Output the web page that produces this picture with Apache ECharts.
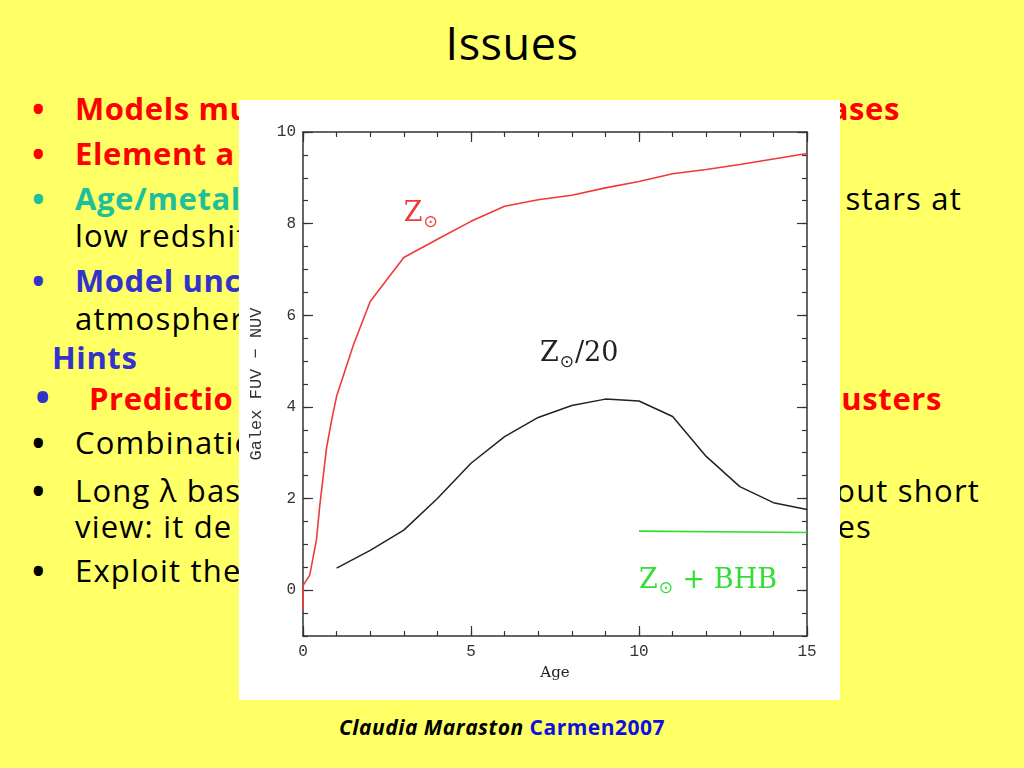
<!DOCTYPE html>
<html>
<head>
<meta charset="utf-8">
<script src="https://cdn.jsdelivr.net/npm/echarts@6/dist/echarts.min.js"></script>
<style>
  html, body { margin:0; padding:0; }
  body { width:1024px; height:768px; background:#ffff66; position:relative; overflow:hidden; font-family:"Open Sans", sans-serif; }
  .t { position:absolute; white-space:nowrap; font-size:31px; line-height:40px; color:#000; letter-spacing:0.6px; }
  .n { letter-spacing:1.2px; }
  .d { position:absolute; white-space:nowrap; font-size:44px; line-height:40px; }
  .b { font-weight:bold; }
  .red { color:#ff0000; }
  .teal { color:#1fbf9a; }
  .blue { color:#3333cc; }
  .r { text-align:right; }
  #chart { position:absolute; left:239px; top:100px; width:601px; height:600px; background:#ffffff; z-index:5; }
</style>
</head>
<body>
<script>
// ---- data ----
const solarAge   = [0, 0, 0.2, 0.4, 0.5, 0.7, 0.85, 1, 1.5, 2, 3, 4, 5, 6, 7, 8, 9, 10, 11, 12, 13, 14, 15];
const solarColor = [-0.42, 0.1, 0.33, 1.1, 1.85, 3.1, 3.7, 4.23, 5.35, 6.3, 7.26, 7.66, 8.05, 8.38, 8.52, 8.62, 8.78, 8.92, 9.09, 9.18, 9.29, 9.41, 9.53];
const poorAge    = [1, 2, 3, 4, 5, 6, 7, 8, 9, 10, 11, 12, 13, 14, 15];
const poorColor  = [0.48, 0.87, 1.31, 2.0, 2.77, 3.35, 3.77, 4.03, 4.17, 4.13, 3.79, 2.92, 2.26, 1.91, 1.76];
const bhbAge     = [10, 15];
const bhbColor   = [1.29, 1.26];
const xTickLabels = [0, 5, 10, 15];
const yTickLabels = [0, 2, 4, 6, 8, 10];
</script>

<div class="t" style="left:0;width:1024px;top:17px;font-size:45px;line-height:52px;text-align:center;letter-spacing:0.5px;">Issues</div>

<div class="d red" style="left:30px;top:88px;">•</div>
<div class="t b red" style="left:75px;top:88px;">Models mu</div>
<div class="t b red r" style="right:124px;top:88px;">ases</div>

<div class="d red" style="left:30px;top:133px;">•</div>
<div class="t b red" style="left:75px;top:133px;">Element a</div>

<div class="d teal" style="left:30px;top:178px;">•</div>
<div class="t b teal" style="left:75px;top:178px;">Age/metal</div>
<div class="t n r" style="right:62px;top:178px;">stars at</div>
<div class="t n" style="left:75px;top:215px;">low redshift</div>

<div class="d blue" style="left:30px;top:260px;">•</div>
<div class="t b blue" style="left:75px;top:260px;">Model unc</div>
<div class="t n" style="left:75px;top:298px;">atmospher</div>

<div class="t b blue" style="left:52px;top:337px;">Hints</div>

<div class="d blue" style="left:33px;top:376px;font-size:52px;">•</div>
<div class="t b red" style="left:89px;top:378px;">Predictio</div>
<div class="t b red r" style="right:82px;top:378px;">usters</div>

<div class="d" style="left:30px;top:422px;">•</div>
<div class="t n" style="left:75px;top:422px;">Combinatio</div>

<div class="d" style="left:30px;top:470px;">•</div>
<div class="t n" style="left:75px;top:470px;">Long λ bas</div>
<div class="t n r" style="right:44px;top:470px;">out short</div>
<div class="t n" style="left:75px;top:506px;">view: it de</div>
<div class="t n r" style="right:152px;top:506px;">es</div>

<div class="d" style="left:30px;top:550px;">•</div>
<div class="t n" style="left:75px;top:550px;">Exploit the</div>

<div class="t" style="left:0;width:1004px;top:713px;font-size:21px;line-height:28px;text-align:center;font-weight:bold;font-style:italic;letter-spacing:0.5px;">Claudia Maraston <span style="color:#1010dd;font-style:normal;">Carmen2007</span></div>

<div id="chart"></div>

<script>
const chart = echarts.init(document.getElementById('chart'), null, { renderer: 'canvas' });
const zip = (a, b) => a.map((v, i) => [v, b[i]]);
const axisCol = '#333333';
const tickFont = { fontFamily: 'Liberation Mono', fontSize: 16, color: '#333' };

function xAx(pos, interval, len, labels, extra) {
  return Object.assign({
    type: 'value', min: 0, max: 15, interval: interval, position: pos,
    axisLine: { show: len === 5, onZero: false, lineStyle: { color: axisCol, width: 1.5 } },
    axisTick: { show: true, inside: true, length: len, lineStyle: { color: axisCol, width: 1.2 } },
    axisLabel: { show: labels, margin: 8, ...tickFont },
    splitLine: { show: false }
  }, extra || {});
}
function yAx(pos, len, labels, extra) {
  const ax = {
    type: 'value', min: -1, max: 10, position: pos,
    axisLine: { show: len === 5, onZero: false, lineStyle: { color: axisCol, width: 1.5 } },
    axisTick: { show: true, inside: true, length: len, lineStyle: { color: axisCol, width: 1.2 } },
    axisLabel: { show: labels, margin: 7, ...tickFont },
    splitLine: { show: false }
  };
  if (len === 5) { ax.interval = 0.5; }
  else {
    ax.interval = 1;
    ax.axisTick.customValues = yTickLabels;
    ax.axisLabel.customValues = yTickLabels;
  }
  return Object.assign(ax, extra || {});
}

const subRich = (col) => ({
  z: { fontFamily: 'DejaVu Serif', fontSize: 27, color: col },
  s: { fontFamily: 'DejaVu Sans', fontSize: 17, color: col, padding: [16, 1, 0, 1] },
  n: { fontFamily: 'DejaVu Serif', fontSize: 27, color: col }
});
function annot(coord, fmt, col) {
  return {
    symbol: 'circle', symbolSize: 0, silent: true,
    label: { show: true, position: 'right', distance: 0, formatter: fmt, rich: subRich(col) },
    data: [{ coord: coord }]
  };
}

const option = {
  animation: false,
  grid: { left: 64, right: 33, top: 32, bottom: 64 },
  xAxis: [
    xAx('bottom', 1, 5, false),
    xAx('bottom', 5, 10, true, { name: 'Age', nameLocation: 'middle', nameGap: 30,
      nameTextStyle: { fontFamily: 'DejaVu Serif', fontSize: 15, color: '#222' },
      axisLabel: { show: true, margin: 8, ...tickFont, customValues: xTickLabels } }),
    xAx('top', 1, 5, false),
    xAx('top', 5, 10, false)
  ],
  yAxis: [
    yAx('left', 5, false),
    yAx('left', 10, true, { name: 'Galex FUV \u2212 NUV', nameLocation: 'middle', nameRotate: 90, nameGap: 38,
      nameTextStyle: { fontFamily: 'Liberation Mono', fontSize: 17, color: '#333' } }),
    yAx('right', 5, false),
    yAx('right', 10, false)
  ],
  series: [
    { type: 'line', name: 'Zsun', data: zip(solarAge, solarColor), showSymbol: false, symbol: 'none',
      lineStyle: { color: '#f03a3a', width: 1.6 }, xAxisIndex: 0, yAxisIndex: 0,
      markPoint: annot([3.0, 8.2], '{z|Z}{s|\u2299}', '#f03a3a') },
    { type: 'line', name: 'Zsun/20', data: zip(poorAge, poorColor), showSymbol: false, symbol: 'none',
      lineStyle: { color: '#222222', width: 1.5 }, xAxisIndex: 0, yAxisIndex: 0,
      markPoint: annot([7.05, 5.15], '{z|Z}{s|\u2299}{n|/20}', '#222222') },
    { type: 'line', name: 'Zsun+BHB', data: zip(bhbAge, bhbColor), showSymbol: false, symbol: 'none',
      lineStyle: { color: '#33dd33', width: 1.6 }, xAxisIndex: 0, yAxisIndex: 0,
      markPoint: annot([10.0, 0.2], '{z|Z}{s|\u2299}{n| + BHB}', '#33dd33') }
  ]
};
chart.setOption(option);
</script>
</body>
</html>
